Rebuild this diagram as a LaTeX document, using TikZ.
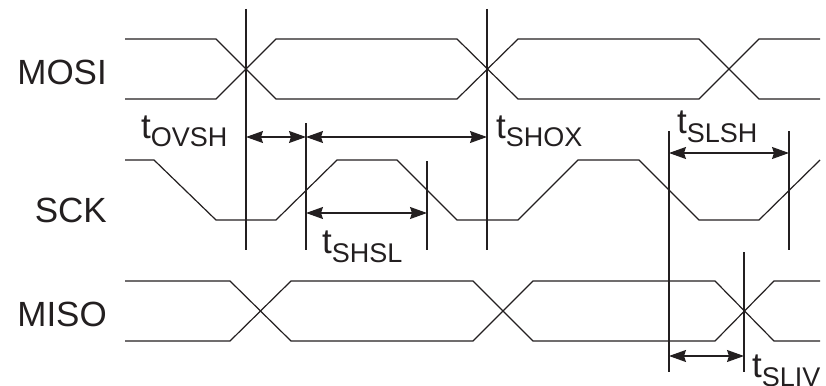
\documentclass[tikz,border=0pt]{standalone}
\usepackage{fontspec}
\setmainfont{Liberation Sans}
\usetikzlibrary{arrows.meta}
\definecolor{ink}{HTML}{231F20}
\newcommand\tlab[1]{t\raisebox{-9pt}{\fontsize{27pt}{27pt}\selectfont #1}}
\tikzset{
  wave/.style={draw=ink, line width=1.2pt, line join=miter},
  guide/.style={draw=ink, line width=1.2pt},
  dim/.style={draw=ink, line width=1.2pt, {Stealth[length=17pt,width=12pt,inset=2pt]}-{Stealth[length=17pt,width=12pt,inset=2pt]}},
  sig/.style={anchor=base east, inner sep=0pt, text=ink, font=\fontsize{35pt}{35pt}\selectfont},
  tl/.style={anchor=base west, inner sep=0pt, text=ink, font=\fontsize{35pt}{35pt}\selectfont}
}
\begin{document}
\begin{tikzpicture}[x=1pt,y=-1pt]
\useasboundingbox (0,0) rectangle (826,385);
% signal names
\node[sig] (mosi) at (107,85) {MOSI};
\node[sig] (sck) at (107,222) {SCK};
\node[sig] (miso) at (107,326) {MISO};
% MOSI
\draw[wave] (125,39)--(216,39)--(276,99)--(457,99)--(518,39)--(699,39)--(759,99)--(820,99);
\draw[wave] (125,99)--(216,99)--(276,39)--(457,39)--(518,99)--(699,99)--(759,39)--(820,39);
% SCK
\draw[wave] (125,160)--(154,160)--(216,220)--(276,220)--(337,160)--(397,160)--(457,220)--(518,220)--(578,160)--(639,160)--(699,220)--(759,220)--(820,160);
% MISO
\draw[wave] (125,281)--(230,281)--(291,341)--(473,341)--(533,281)--(715,281)--(774,341)--(820,341);
\draw[wave] (125,341)--(230,341)--(291,281)--(473,281)--(533,341)--(715,341)--(774,281)--(820,281);
% guide lines
\coordinate (v1t) at (246,9);   \coordinate (v1b) at (246,250);
\coordinate (v2t) at (487,9);   \coordinate (v2b) at (487,250);
\coordinate (v3t) at (306,123); \coordinate (v3b) at (306,250);
\coordinate (v4t) at (427,161); \coordinate (v4b) at (427,250);
\coordinate (v5t) at (669,131); \coordinate (v5b) at (669,372);
\coordinate (v6t) at (789,131); \coordinate (v6b) at (789,250);
\coordinate (v7t) at (744,252); \coordinate (v7b) at (744,372);
\foreach \v in {v1,v2,v3,v4,v5,v6,v7} \draw[guide] (\v t) -- (\v b);
% dimension arrows
\coordinate (a1) at (246,137); \coordinate (a2) at (306,137); \coordinate (a3) at (487,137);
\coordinate (b1) at (306,213); \coordinate (b2) at (427,213);
\coordinate (c1) at (669,153); \coordinate (c2) at (789,153);
\coordinate (d1) at (669,356); \coordinate (d2) at (744,356);
\draw[dim] (a1) -- (a2);
\draw[dim] (a2) -- (a3);
\draw[dim] (b1) -- (b2);
\draw[dim] (c1) -- (c2);
\draw[dim] (d1) -- (d2);
% labels
\node[tl] (ovsh) at (141,138) {\tlab{OVSH}};
\node[tl] (shox) at (496,138) {\tlab{SHOX}};
\node[tl] (slsh) at (677,133) {\tlab{SLSH}};
\node[tl] (shsl) at (322,253) {\tlab{SHSL}};
\node[tl] (sliv) at (752,377) {\tlab{SLIV}};
\end{tikzpicture}
\end{document}
